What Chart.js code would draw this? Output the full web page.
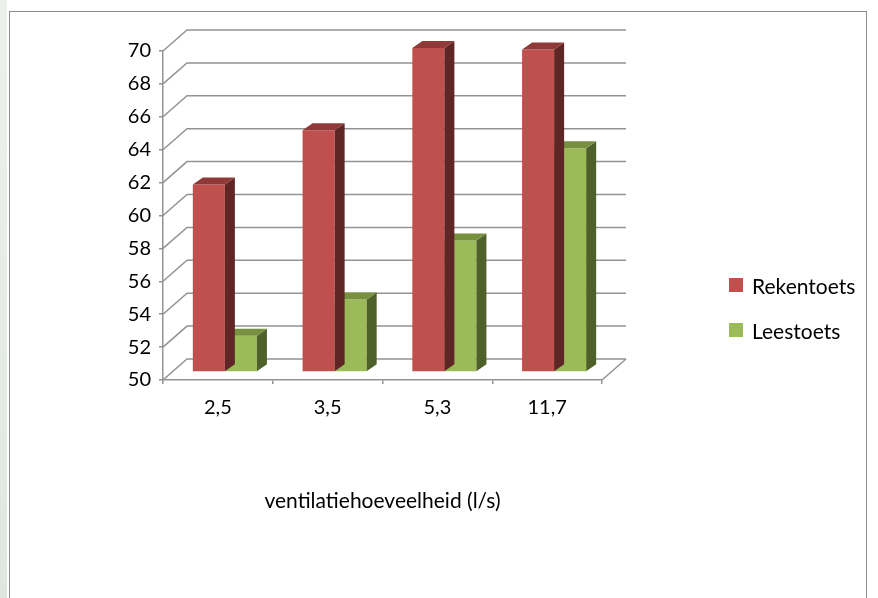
<!DOCTYPE html>
<html>
<head>
<meta charset="utf-8">
<script src="https://cdn.jsdelivr.net/npm/chart.js@4.4.1/dist/chart.umd.min.js"></script>
<style>
  html, body { margin: 0; padding: 0; background: #fff; width: 878px; height: 598px; overflow: hidden; font-family: Lato, "Noto Sans", sans-serif; }
  #strip { position: absolute; left: 0; top: 0; width: 7px; height: 598px; background: linear-gradient(#edf1ed, #dfe6df); }
  #frame { position: absolute; left: 9px; top: 11px; width: 856px; height: 620px; border: 1.5px solid #8c8c8c; border-bottom: none; }
  #wrap { position: absolute; left: 0; top: 0; width: 878px; height: 598px; }
  #legend { position: absolute; left: 729px; top: 274px; }
  .item { display: flex; align-items: center; height: 22px; margin-bottom: 23px; font-size: 21px; color: #000; }
  .sw { width: 14px; height: 14px; margin-right: 9px; }
</style>
</head>
<body>
<div id="strip"></div>
<div id="frame"></div>
<div id="wrap"><canvas id="chart"></canvas></div>
<div id="legend"></div>
<script>
// data
const categories = ["2,5", "3,5", "5,3", "11,7"];
const rekentoets = [61.4, 64.7, 69.7, 69.6];
const leestoets = [52.2, 54.4, 58.0, 63.6];
const seriesNames = ["Rekentoets", "Leestoets"];
const yTicks = { min: 50, max: 70, step: 2 };
const axisTitle = "ventilatiehoeveelheid (l/s)";

// styling
const FRONT = ["#C0504D", "#9BBB59"];
const TOP = ["#8F3A38", "#76903D"];
const SIDE = ["#5E2624", "#4F612B"];
const GRID = "#939393";
const WALL_DX = 24, WALL_DY = -21;   // back wall offset from front plane
const BAR_DX = 7, BAR_DY = -8;       // bar front face offset
const DEPTH_DX = 10, DEPTH_DY = -7;  // bar depth

function el(id) {
  return document.getElementById(id);
}

// back wall grid + side wall diagonals, bars pushed back and given depth
const wallPlugin = {
  id: "wall3d",
  beforeDatasetsDraw(chart) {
    const { ctx, chartArea: a } = chart;
    const ys = chart.scales.y;
    ctx.save();
    ctx.strokeStyle = GRID;
    ctx.lineWidth = 1.5;
    for (const t of ys.ticks) {
      const y = ys.getPixelForValue(t.value);
      ctx.beginPath();
      ctx.moveTo(a.left, y);
      ctx.lineTo(a.left + WALL_DX, y + WALL_DY);
      ctx.lineTo(a.right + WALL_DX, y + WALL_DY);
      ctx.stroke();
    }
    ctx.beginPath();
    ctx.moveTo(a.right, a.bottom);
    ctx.lineTo(a.right + WALL_DX, a.bottom + WALL_DY);
    ctx.stroke();
    ctx.restore();
  },
  beforeDatasetDraw(chart) {
    chart.ctx.save();
    chart.ctx.translate(BAR_DX, BAR_DY);
  },
  afterDatasetDraw(chart, args) {
    const ctx = chart.ctx;
    const i = args.index;
    for (const bar of args.meta.data) {
      const xl = bar.x - bar.width / 2;
      const xr = bar.x + bar.width / 2;
      const top = bar.y;
      const bottom = bar.base;
      ctx.fillStyle = SIDE[i];
      ctx.beginPath();
      ctx.moveTo(xr, top);
      ctx.lineTo(xr + DEPTH_DX, top + DEPTH_DY);
      ctx.lineTo(xr + DEPTH_DX, bottom + DEPTH_DY);
      ctx.lineTo(xr, bottom);
      ctx.closePath();
      ctx.fill();
      ctx.fillStyle = TOP[i];
      ctx.beginPath();
      ctx.moveTo(xl, top);
      ctx.lineTo(xl + DEPTH_DX, top + DEPTH_DY);
      ctx.lineTo(xr + DEPTH_DX, top + DEPTH_DY);
      ctx.lineTo(xr, top);
      ctx.closePath();
      ctx.fill();
    }
    ctx.restore();
  },
};

Chart.defaults.font.family = "Lato, 'Noto Sans', sans-serif";
Chart.defaults.font.size = 20;
Chart.defaults.color = "#000";

new Chart(el("chart"), {
  type: "bar",
  data: {
    labels: categories,
    datasets: [rekentoets, leestoets].map((d, i) => ({
      label: seriesNames[i],
      data: d,
      base: yTicks.min,
      backgroundColor: FRONT[i],
      borderWidth: 0,
      categoryPercentage: 0.584,
      barPercentage: 1,
      clip: false,
    })),
  },
  options: {
    responsive: true,
    maintainAspectRatio: false,
    animation: false,
    layout: { padding: { left: 0, top: 51, right: 276, bottom: 0 } },
    plugins: { legend: { display: false }, tooltip: { enabled: false } },
    scales: {
      x: {
        grid: { drawOnChartArea: false, offset: true, tickLength: 4, color: GRID, lineWidth: 1.5 },
        border: { color: GRID, width: 1.5 },
        ticks: { padding: 12, maxRotation: 0 },
        title: { display: true, text: axisTitle, font: { size: 21 }, padding: { top: 0, bottom: 84 } },
        afterFit(scale) { scale.height = 218; },
      },
      y: {
        min: yTicks.min,
        max: yTicks.max,
        grid: { drawOnChartArea: false, tickLength: 4, color: GRID, lineWidth: 1.5 },
        border: { color: GRID, width: 1.5 },
        ticks: { stepSize: yTicks.step, padding: 8 },
        afterFit(scale) { scale.width = 163; },
      },
    },
  },
  plugins: [wallPlugin],
});

const legend = el("legend");
seriesNames.forEach((name, i) => {
  const row = document.createElement("div");
  row.className = "item";
  row.innerHTML = `<span class="sw" style="background:${FRONT[i]}"></span><span>${name}</span>`;
  legend.appendChild(row);
});
</script>
</body>
</html>
